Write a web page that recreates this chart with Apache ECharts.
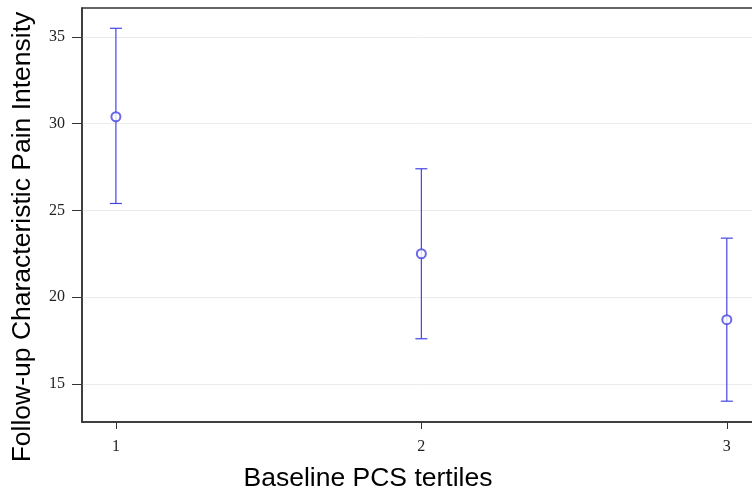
<!DOCTYPE html>
<html>
<head>
<meta charset="utf-8">
<script src="https://cdn.jsdelivr.net/npm/echarts@6/dist/echarts.min.js"></script>
<style>
  html, body { margin: 0; padding: 0; background: #fff; }
  #chart { width: 752px; height: 491px; }
</style>
</head>
<body>
<div id="chart"></div>
<script>
var tertiles = [1, 2, 3];
var means = [30.4, 22.5, 18.7];
var lower = [25.4, 17.6, 14.0];
var upper = [35.5, 27.4, 23.4];
var yTicks = [15, 20, 25, 30, 35];

var chart = echarts.init(document.getElementById('chart'));

var barData = tertiles.map(function (t, i) { return [t, lower[i], upper[i]]; });
var meanData = tertiles.map(function (t, i) { return [t, means[i]]; });

var blue = '#4444e4';

var option = {
  animation: false,
  backgroundColor: '#fff',
  grid: {
    left: 82, right: -2, top: 8, bottom: 69,
    outerBoundsMode: 'none',
    show: true, borderColor: '#333', borderWidth: 1.5, backgroundColor: 'transparent'
  },
  xAxis: {
    type: 'value',
    min: 0.889,
    max: 3.089,
    name: 'Baseline PCS tertiles',
    nameLocation: 'middle',
    nameGap: 43,
    // title sits left of the plot centre in the original
    nameTextStyle: { fontFamily: 'Liberation Sans', fontSize: 26.5, color: '#000', padding: [0, 100, 0, 0] },
    axisLine: { show: true, lineStyle: { color: '#333', width: 1.5 } },
    axisTick: { show: true, customValues: tertiles, length: 7, lineStyle: { color: '#333' } },
    axisLabel: { customValues: tertiles, fontFamily: 'Liberation Serif', fontSize: 16, color: '#222', margin: 17 },
    splitLine: { show: false }
  },
  yAxis: {
    type: 'value',
    min: 12.8,
    max: 36.67,
    name: 'Follow-up Characteristic Pain Intensity',
    nameLocation: 'middle',
    nameGap: 46,
    nameTextStyle: { fontFamily: 'Liberation Sans', fontSize: 26.5, color: '#000', padding: [0, 44, 0, 0] },
    axisLine: { show: true, lineStyle: { color: '#333', width: 1.5 } },
    axisTick: { show: true, customValues: yTicks, length: 10, lineStyle: { color: '#333' } },
    axisLabel: { customValues: yTicks, fontFamily: 'Liberation Serif', fontSize: 16, color: '#222', margin: 17 },
    splitLine: { show: true, lineStyle: { color: '#ebebeb' } }
  },
  series: [
    {
      type: 'custom',
      data: barData,
      renderItem: function (params, api) {
        var x = api.value(0);
        var lo = api.coord([x, api.value(1)]);
        var hi = api.coord([x, api.value(2)]);
        var half = 6;
        var style = { stroke: blue, lineWidth: 1.2 };
        return {
          type: 'group',
          children: [
            { type: 'line', shape: { x1: lo[0], y1: lo[1], x2: hi[0], y2: hi[1] }, style: style },
            { type: 'line', shape: { x1: lo[0] - half, y1: lo[1], x2: lo[0] + half, y2: lo[1] }, style: style },
            { type: 'line', shape: { x1: hi[0] - half, y1: hi[1], x2: hi[0] + half, y2: hi[1] }, style: style }
          ]
        };
      },
      z: 2
    },
    {
      type: 'scatter',
      data: meanData,
      symbol: 'emptyCircle',
      symbolSize: 9,
      itemStyle: { color: blue, borderWidth: 1.3 },
      z: 3
    }
  ]
};

chart.setOption(option);
</script>
</body>
</html>
